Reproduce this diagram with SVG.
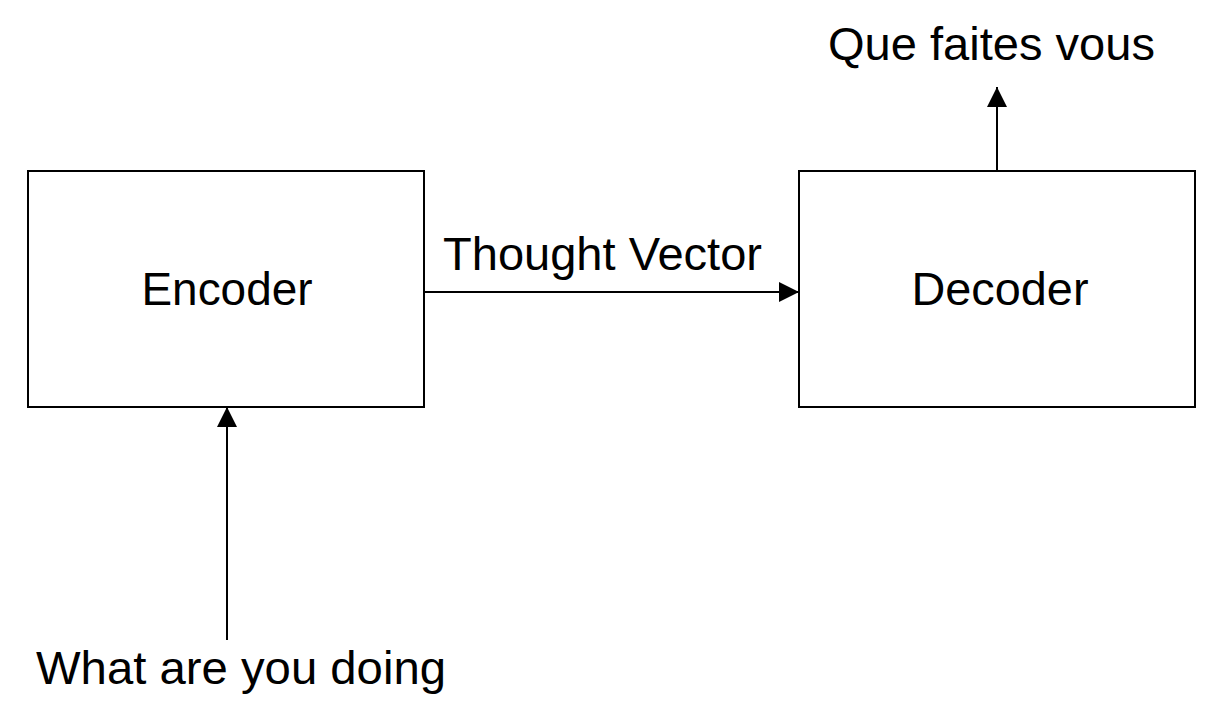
<svg xmlns="http://www.w3.org/2000/svg" width="1217" height="715" viewBox="0 0 1217 715">
<style>
.box{fill:#fff;stroke:#000;stroke-width:2}
.lbl{font-family:"Liberation Sans",Arial,sans-serif;font-size:47px;fill:#000}
.edge{stroke:#000;stroke-width:2;fill:none}
</style>
<defs>
<marker id="ah" viewBox="0 0 20 20" refX="20" refY="10" markerWidth="20" markerHeight="20" markerUnits="userSpaceOnUse" orient="auto">
<path d="M0,0 L20,10 L0,20 Z" fill="#000"/>
</marker>
</defs>
<rect width="1217" height="715" fill="#fff"/>
<g id="encoder">
<rect class="box" x="28" y="171" width="396" height="236"/>
<text class="lbl" x="227" y="305" text-anchor="middle" textLength="171" lengthAdjust="spacingAndGlyphs">Encoder</text>
</g>
<g id="decoder">
<rect class="box" x="799" y="171" width="396" height="236"/>
<text class="lbl" x="1000" y="305" text-anchor="middle" textLength="177" lengthAdjust="spacingAndGlyphs">Decoder</text>
</g>
<g id="input">
<text class="lbl" x="36" y="684" textLength="410" lengthAdjust="spacingAndGlyphs">What are you doing</text>
</g>
<g id="output">
<text class="lbl" x="828" y="60" textLength="327" lengthAdjust="spacingAndGlyphs">Que faites vous</text>
</g>
<g id="connectors">
<line class="edge" x1="424" y1="292" x2="799" y2="292" marker-end="url(#ah)"/>
<text class="lbl" x="443" y="270" textLength="319" lengthAdjust="spacingAndGlyphs">Thought Vector</text>
<line class="edge" x1="227" y1="640" x2="227" y2="407" marker-end="url(#ah)"/>
<line class="edge" x1="997" y1="171" x2="997" y2="87" marker-end="url(#ah)"/>
</g>
</svg>
